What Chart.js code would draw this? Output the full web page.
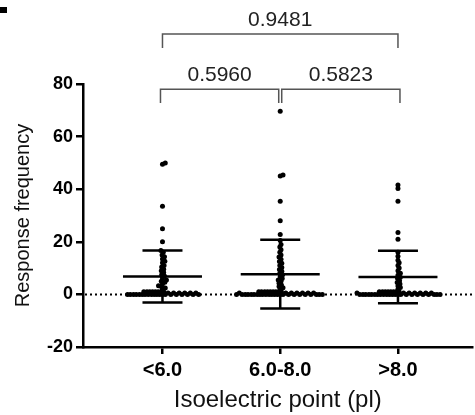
<!DOCTYPE html>
<html>
<head>
<meta charset="utf-8">
<script src="https://cdn.jsdelivr.net/npm/chart.js@4.4.1/dist/chart.umd.min.js"></script>
<style>
  html, body { margin: 0; padding: 0; background: #fff; }
</style>
</head>
<body>
<canvas id="chart" width="475" height="415"></canvas>
<script>
// ---- data (kept in plotting order) ----
const categories = ['<6.0', '6.0-8.0', '>8.0'];

const groupLow = [
  0, 0, 1, 0, 0.5, 0, 0, 1, 0, 0.5, 0, 1, 0, 0, 0.5, 0, 1, 0, 0, 0.5,
  1, 0, 0, 1, 0, 0.5, 0, 0, 1, 0, 0.5, 0, 0, 1,
  2, 2.4, 3, 3.3, 4, 4.6, 5, 5.5, 6.2, 7, 7.5, 8.3, 9, 9.6, 10.4, 11, 12, 12.6,
  13.5, 14.3, 15, 16, 16.7,
  20, 25, 33.5, 49.5, 50
];
const groupMid = [
  0, 0, 1, 0, 0.5, 0, 0, 1, 0, 0.5, 0, 1, 0, 0, 0.5, 0, 1, 0, 0, 0.5,
  1, 0, 0, 1, 0, 0.5, 0, 0, 1, 0, 0.5, 0, 0, 1, 0, 0, 0.5, 0, 1, 0,
  2, 2.5, 3, 3.6, 4.2, 5, 5.5, 6, 6.8, 7.5, 8, 8.8, 9.5, 10.2, 11, 11.8, 12.5,
  13.4, 14.2, 15, 16, 17, 18, 19, 20.5,
  22.8, 28, 35.4, 45, 45.4, 69.6
];
const groupHigh = [
  0, 0, 1, 0, 0.5, 0, 0, 1, 0, 0.5, 0, 1, 0, 0, 0.5, 0, 1, 0, 0, 0.5,
  1, 0, 0, 1, 0, 0.5, 0, 0, 1, 0, 0.5, 0, 0, 1, 0, 0, 0.5, 0,
  2, 2.6, 3.2, 4, 4.5, 5.2, 6, 6.5, 7.3, 8, 9, 10, 11, 12, 13, 14.5, 16,
  21, 23.5, 35.4, 40.3, 41.6
];

// mean +/- SD as drawn
const means = [6.8, 7.7, 6.6];
const sds = [9.9, 13.1, 10.0];

const yTicks = [-20, 0, 20, 40, 60, 80];

// pairwise p-values
const pairs = [[0, 1], [1, 2], [0, 2]];
const pLabels = ['0.5960', '0.5823', '0.9481'];

const FONT = 'Liberation Sans, Arial, Helvetica, sans-serif';
const groups = [groupLow, groupMid, groupHigh];

// zero reference line
const zeroLine = {
  id: 'zeroLine',
  beforeDatasetsDraw(chart) {
    const { ctx, chartArea, scales: { y } } = chart;
    const py = Math.round(y.getPixelForValue(0)) + 0.5;
    ctx.save();
    ctx.strokeStyle = '#000';
    ctx.lineWidth = 2;
    ctx.setLineDash([2, 3]);
    ctx.beginPath();
    ctx.moveTo(chartArea.left + 2, py);
    ctx.lineTo(chartArea.right, py);
    ctx.stroke();
    ctx.restore();
  }
};

// mean and SD bars
const errorBars = {
  id: 'errorBars',
  afterDatasetsDraw(chart) {
    const { ctx, scales: { x, y } } = chart;
    ctx.save();
    ctx.strokeStyle = '#000';
    ctx.lineWidth = 2.5;
    means.forEach((m, i) => {
      const cx = x.getPixelForValue(i + 1);
      const pm = y.getPixelForValue(m);
      const pu = y.getPixelForValue(m + sds[i]);
      const pl = y.getPixelForValue(m - sds[i]);
      ctx.beginPath();
      ctx.moveTo(cx - 39.5, pm); ctx.lineTo(cx + 39.5, pm);
      ctx.moveTo(cx - 20, pu); ctx.lineTo(cx + 20, pu);
      ctx.moveTo(cx - 20, pl); ctx.lineTo(cx + 20, pl);
      ctx.moveTo(cx, pu); ctx.lineTo(cx, pl);
      ctx.stroke();
    });
    ctx.restore();
  }
};

// comparison brackets with p-values
const brackets = {
  id: 'brackets',
  afterDraw(chart) {
    const { ctx, scales: { x, y } } = chart;
    ctx.save();
    ctx.strokeStyle = '#555';
    ctx.lineWidth = 1.5;
    ctx.fillStyle = '#222';
    ctx.font = '21px ' + FONT;
    ctx.textAlign = 'center';
    ctx.textBaseline = 'middle';
    pairs.forEach(([a, b], k) => {
      const wide = (b - a) > 1;
      const top = y.getPixelForValue(wide ? 99 : 78);
      const foot = y.getPixelForValue(wide ? 93.7 : 72.8);
      let x1 = x.getPixelForValue(a + 1), x2 = x.getPixelForValue(b + 1);
      if (!wide) { x1 += (a === 1 ? 1.5 : -2); x2 += (b === 1 ? -1.5 : 2); }
      ctx.beginPath();
      ctx.moveTo(x1, foot); ctx.lineTo(x1, top); ctx.lineTo(x2, top); ctx.lineTo(x2, foot);
      ctx.stroke();
      ctx.fillText(pLabels[k], (x1 + x2) / 2, top - 14);
    });
    // fragment of panel letter at the corner
    ctx.fillStyle = '#000';
    ctx.fillRect(0, 7, 7, 6);
    ctx.restore();
  }
};

const axisGrid = { display: true, drawOnChartArea: false, drawTicks: true, tickLength: 7, color: '#000', lineWidth: 2.5 };
const axisBorder = { display: true, color: '#000', width: 2.5 };

const chart = new Chart(document.getElementById('chart'), {
  type: 'scatter',
  data: { datasets: groups.map(() => ({ data: [] })) },
  options: {
    responsive: false,
    animation: false,
    devicePixelRatio: 1,
    layout: { padding: { top: 84, left: 0, right: 0, bottom: 0 } },
    elements: { point: { radius: 2.5, backgroundColor: '#000', borderWidth: 0, hoverRadius: 2.5 } },
    plugins: { legend: { display: false }, tooltip: { enabled: false } },
    scales: {
      x: {
        type: 'linear',
        min: 0.325,
        max: 3.633,
        grid: axisGrid,
        border: axisBorder,
        afterBuildTicks: s => { s.ticks = categories.map((c, i) => ({ value: i + 1 })); },
        afterFit: s => { s.height = 68; },
        ticks: {
          color: '#000',
          padding: 4,
          font: { family: FONT, size: 20, weight: 'bold' },
          callback: v => categories[v - 1]
        },
        title: {
          display: true,
          text: 'Isoelectric point (pl)',
          color: '#111',
          font: { family: FONT, size: 24 },
          padding: { top: 0, bottom: 0 }
        }
      },
      y: {
        min: -20,
        max: 80,
        grid: axisGrid,
        border: axisBorder,
        afterBuildTicks: s => { s.ticks = yTicks.map(v => ({ value: v })); },
        afterFit: s => { s.width = 83; },
        ticks: {
          color: '#000',
          padding: 3,
          font: { family: FONT, size: 18, weight: 'bold' }
        },
        title: {
          display: true,
          text: 'Response frequency',
          color: '#111',
          font: { family: FONT, size: 20 },
          padding: { top: 11, bottom: 0 }
        }
      }
    }
  },
  plugins: [zeroLine, errorBars, brackets]
});

// beeswarm spread of each column (points placed in data order, nearest free slot)
function swarm(values, center, diam) {
  const xs = chart.scales.x, ys = chart.scales.y;
  const pxPerX = xs.getPixelForValue(2) - xs.getPixelForValue(1);
  const placed = [];
  return values.map(v => {
    const py = ys.getPixelForValue(v);
    let off = 0;
    for (let k = 0; k < 1000; k++) {
      const cand = (k % 2 ? 1 : -1) * Math.ceil(k / 2) * 0.4;
      const hit = placed.some(p => {
        const dx = cand - p.dx, dy = py - p.py;
        return dx * dx + dy * dy < diam * diam;
      });
      if (!hit) { off = cand; break; }
    }
    placed.push({ dx: off, py });
    return { x: center + off / pxPerX, y: v };
  });
}

groups.forEach((g, i) => { chart.data.datasets[i].data = swarm(g, i + 1, 2.8); });
chart.update('none');
</script>
</body>
</html>
